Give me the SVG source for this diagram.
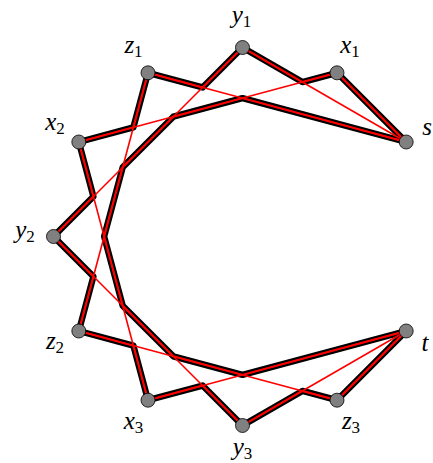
<svg xmlns="http://www.w3.org/2000/svg" width="433" height="463" viewBox="0 0 433 463">
<style>
.bg{fill:#ffffff}
.hl{fill:none;stroke:#000000;stroke-width:6.4;stroke-linejoin:round;stroke-linecap:round}
.hlc{fill:none;stroke:#ff0000;stroke-width:2;stroke-linejoin:round}
.e{stroke:#ff0000;stroke-width:1.6;fill:none}
.n{fill:#808080;stroke:#000000;stroke-width:0.8}
.lb{font-family:"Liberation Serif","DejaVu Serif",serif;font-style:italic;font-size:25px;fill:#000000;text-anchor:middle}
.sb{font-style:normal;font-size:17px}
</style>
<rect class="bg" x="0" y="0" width="433" height="463"/>
<g id="connectors">
  <polygon class="hl" points="406.18,142 337,72.82 302.41,82.09 242.5,47.5 202.56,87.44 148,72.82 133.38,127.38 78.82,142 93.44,196.56 53.5,236.5 93.44,276.44 78.82,331 133.38,345.62 148,400.18 202.56,385.56 242.5,425.5 302.41,390.91 337,400.18 406.18,331 242.5,374.86 173.32,356.32 122.68,305.68 104.14,236.5 122.68,167.32 173.32,116.68 242.5,98.14"/>
  <polygon class="hlc" points="406.18,142 337,72.82 302.41,82.09 242.5,47.5 202.56,87.44 148,72.82 133.38,127.38 78.82,142 93.44,196.56 53.5,236.5 93.44,276.44 78.82,331 133.38,345.62 148,400.18 202.56,385.56 242.5,425.5 302.41,390.91 337,400.18 406.18,331 242.5,374.86 173.32,356.32 122.68,305.68 104.14,236.5 122.68,167.32 173.32,116.68 242.5,98.14"/>
  <line class="e" x1="406.18" y1="142" x2="337" y2="72.82"/>
  <line class="e" x1="406.18" y1="142" x2="242.5" y2="47.5"/>
  <line class="e" x1="406.18" y1="142" x2="148" y2="72.82"/>
  <line class="e" x1="337" y1="72.82" x2="78.82" y2="142"/>
  <line class="e" x1="242.5" y1="47.5" x2="53.5" y2="236.5"/>
  <line class="e" x1="148" y1="72.82" x2="78.82" y2="331"/>
  <line class="e" x1="78.82" y1="142" x2="148" y2="400.18"/>
  <line class="e" x1="53.5" y1="236.5" x2="242.5" y2="425.5"/>
  <line class="e" x1="78.82" y1="331" x2="337" y2="400.18"/>
  <line class="e" x1="148" y1="400.18" x2="406.18" y2="331"/>
  <line class="e" x1="242.5" y1="425.5" x2="406.18" y2="331"/>
  <line class="e" x1="337" y1="400.18" x2="406.18" y2="331"/>
</g>
<g id="node-y1"><circle class="n" cx="242.5" cy="47.5" r="7"/><text class="lb" x="241.5" y="23">y<tspan class="sb" dy="4">1</tspan></text></g>
<g id="node-x1"><circle class="n" cx="337" cy="72.82" r="7"/><text class="lb" x="350" y="53">x<tspan class="sb" dy="4">1</tspan></text></g>
<g id="node-s"><circle class="n" cx="406.18" cy="142" r="7"/><text class="lb" x="427" y="135">s</text></g>
<g id="node-t"><circle class="n" cx="406.18" cy="331" r="7"/><text class="lb" x="425" y="351">t</text></g>
<g id="node-z3"><circle class="n" cx="337" cy="400.18" r="7"/><text class="lb" x="351" y="429">z<tspan class="sb" dy="4">3</tspan></text></g>
<g id="node-y3"><circle class="n" cx="242.5" cy="425.5" r="7"/><text class="lb" x="242.5" y="455">y<tspan class="sb" dy="4">3</tspan></text></g>
<g id="node-x3"><circle class="n" cx="148" cy="400.18" r="7"/><text class="lb" x="133.5" y="429">x<tspan class="sb" dy="4">3</tspan></text></g>
<g id="node-z2"><circle class="n" cx="78.82" cy="331" r="7"/><text class="lb" x="55" y="349">z<tspan class="sb" dy="4">2</tspan></text></g>
<g id="node-y2"><circle class="n" cx="53.5" cy="236.5" r="7"/><text class="lb" x="25" y="238">y<tspan class="sb" dy="4">2</tspan></text></g>
<g id="node-x2"><circle class="n" cx="78.82" cy="142" r="7"/><text class="lb" x="55" y="130">x<tspan class="sb" dy="4">2</tspan></text></g>
<g id="node-z1"><circle class="n" cx="148" cy="72.82" r="7"/><text class="lb" x="133.5" y="53">z<tspan class="sb" dy="4">1</tspan></text></g>
</svg>
